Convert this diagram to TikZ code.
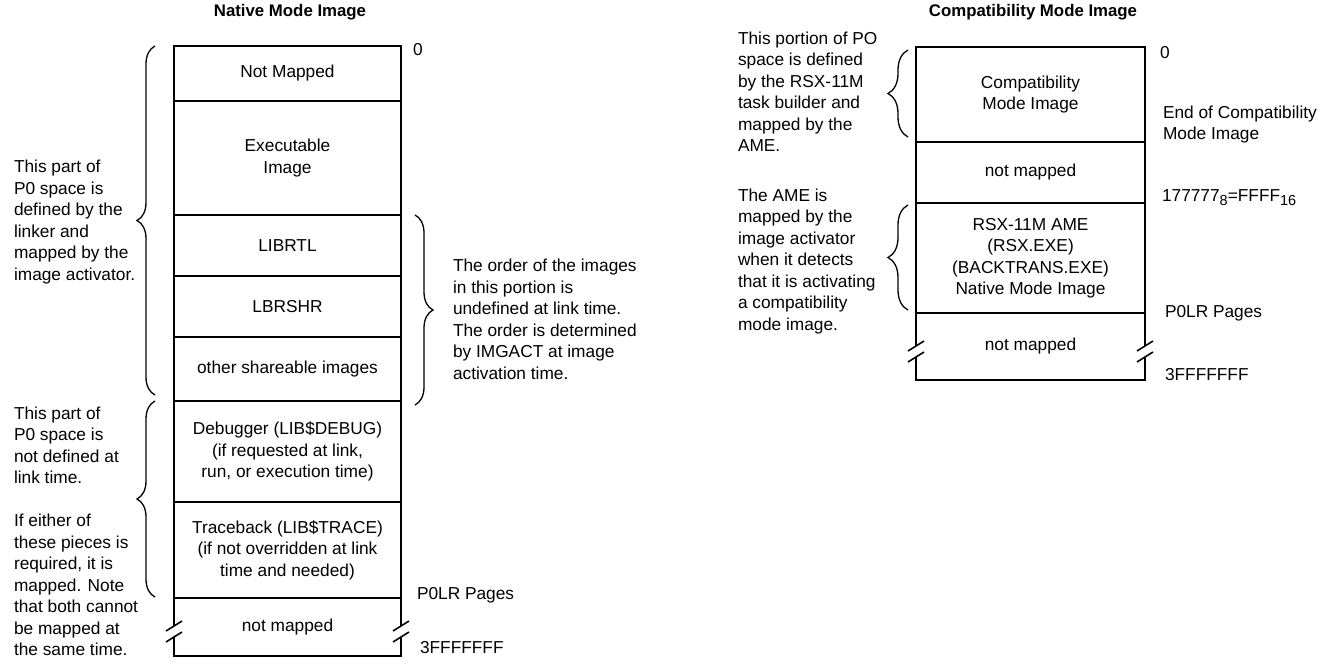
\documentclass[tikz,border=0pt]{standalone}
\usepackage{fontspec}
\setmainfont{Liberation Sans}
\usetikzlibrary{positioning,decorations.pathreplacing}

\newcommand{\lowsub}[1]{\raisebox{-0.45ex}{\fontsize{14.5}{14.5}\selectfont #1}}

\begin{document}
\begin{tikzpicture}[x=1pt, y=-1pt,
    every node/.style={inner sep=0pt, outer sep=0pt},
    txt/.style={font=\fontsize{17.3}{21.5}\selectfont, align=left, anchor=west},
    seg/.style={draw, line width=1.6pt, minimum width=227pt, align=center,
        font=\fontsize{17.3}{21.5}\selectfont},
    ttl/.style={font=\fontsize{16.8}{20}\selectfont\bfseries},
    brc/.style={line width=1.3pt, decorate, decoration={brace, amplitude=#1}},
    brc/.default=18pt,
    sidel/.style={line width=1.6pt}]
    \useasboundingbox (0,0) rectangle (1323,662);

    % --- Titles ---
    \node[ttl] (native) at (290,12) {Native Mode Image};
    \node[ttl] (compmode) at (1033,12) {Compatibility Mode Image};

    % --- Native mode image: P0 space, top to bottom ---
    \node[seg, minimum height=55pt] (nm) at (287.5,73.5) {Not Mapped};
    \node[seg, minimum height=114pt, below=0pt of nm] (exe) {Executable\\Image};
    \node[seg, minimum height=61pt, below=0pt of exe] (rtl) {LIBRTL};
    \node[seg, minimum height=61pt, below=0pt of rtl] (shr) {LBRSHR};
    \node[seg, minimum height=64pt, below=0pt of shr] (oth) {other shareable images};
    \node[seg, minimum height=101pt, below=0pt of oth] (dbg)
        {Debugger (LIB\$DEBUG)\\(if requested at link,\\run, or execution time)};
    \node[seg, minimum height=96pt, below=0pt of dbg] (trc)
        {Traceback (LIB\$TRACE)\\(if not overridden at link\\time and needed)};
    \node[seg, draw=none, minimum height=58pt, below=0pt of trc] (nmb) {not mapped};

    % --- Broken sides of the last segment ---
    \draw[sidel] (nmb.north west) -- ++(0,28) ++(-8,5) -- ++(16,-10)
                 (nmb.north east) -- ++(0,28) ++(-8,5) -- ++(16,-10);
    \draw[sidel] (nmb.south west) ++(-8,-14) -- ++(16,-10)
                 (nmb.south east) ++(-8,-14) -- ++(16,-10);
    \draw[sidel] ([yshift=19pt]nmb.south west) -- (nmb.south west)
        -- (nmb.south east) -- ([yshift=19pt]nmb.south east);

    % --- Addresses ---
    \node[txt] (zero1) at (413,50) {0};
    \node[txt] (polr1) at (417,595) {P0LR Pages};
    \node[txt] (top1) at (420,648) {3FFFFFFF};

    % --- Braces and notes ---
    \draw[brc] ([xshift=-19pt,yshift=6pt]oth.south west) -- ([xshift=-19pt]nm.north west);
    \draw[brc] ([xshift=-19pt,yshift=1pt]trc.south west) -- ([xshift=-19pt]dbg.north west);
    \draw[brc] ([xshift=14pt]rtl.north east) -- ([xshift=14pt,yshift=-4pt]oth.south east);

    \node[txt] (linker) at (14,222) {This part of\\P0 space is\\defined by the\\linker and\\mapped by the\\image activator.};
    \node[txt] (notdef) at (14,445.5) {This part of\\P0 space is\\not defined at\\link time.};
    \node[txt] (either) at (14,585) {If either of\\these pieces is\\required, it is\\mapped. Note\\that both cannot\\be mapped at\\the same time.};
    \node[txt] (order) at (453,319.5) {The order of the images\\in this portion is\\undefined at link time.\\The order is determined\\by IMGACT at image\\activation time.};

    % --- Compatibility mode image ---
    \node[seg, minimum width=229pt, minimum height=95pt] (cmi) at (1030.5,94.5) {Compatibility\\Mode Image};
    \node[seg, minimum width=229pt, minimum height=61pt, below=0pt of cmi] (cnm) {not mapped};
    \node[seg, minimum width=229pt, minimum height=110pt, below=0pt of cnm] (ame)
        {RSX-11M AME\\(RSX.EXE)\\(BACKTRANS.EXE)\\Native Mode Image};
    \node[seg, draw=none, minimum width=229pt, minimum height=67pt, below=0pt of ame] (cnb) {not mapped};

    \draw[sidel] (cnb.north west) -- ++(0,33) ++(-8,5) -- ++(16,-10)
                 (cnb.north east) -- ++(0,33) ++(-8,5) -- ++(16,-10);
    \draw[sidel] (cnb.south west) ++(-8,-18) -- ++(16,-10)
                 (cnb.south east) ++(-8,-18) -- ++(16,-10);
    \draw[sidel] ([yshift=23pt]cnb.south west) -- (cnb.south west)
        -- (cnb.south east) -- ([yshift=23pt]cnb.south east);

    \node[txt] (zero2) at (1160,53) {0};
    \node[txt] (endcmi) at (1163,124.5) {End of Compatibility\\Mode Image};
    \node[txt, anchor=base west] (ffff) at (1162,201) {177777\lowsub{8}=FFFF\lowsub{16}};
    \node[txt] (polr2) at (1165,313) {P0LR Pages};
    \node[txt] (top2) at (1165,375) {3FFFFFFF};

    \draw[brc=20pt] ([xshift=-8pt,yshift=5pt]cmi.south west) -- ([xshift=-8pt,yshift=-3pt]cmi.north west);
    \draw[brc=20pt] ([xshift=-8pt,yshift=3pt]ame.south west) -- ([xshift=-8pt,yshift=-2pt]ame.north west);

    \node[txt] (rsxdef) at (738,91.5) {This portion of PO\\space is defined\\by the RSX-11M\\task builder and\\mapped by the\\AME.};
    \node[txt] (amemap) at (738,261.5) {The AME is\\mapped by the\\image activator\\when it detects\\that it is activating\\a compatibility\\mode image.};
\end{tikzpicture}
\end{document}
